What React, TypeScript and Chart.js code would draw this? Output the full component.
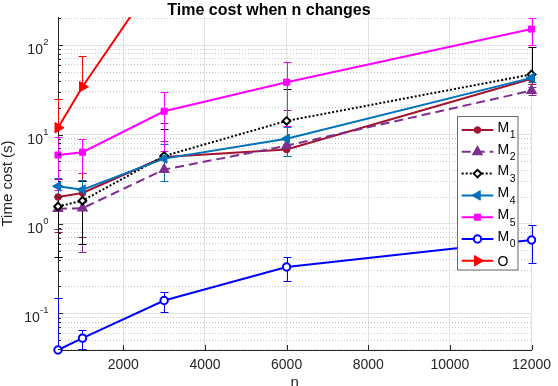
import React, { useEffect, useRef } from 'react';
import { Chart, registerables } from 'chart.js';
import { drawPoint } from 'chart.js/helpers';

Chart.register(...registerables);

const FONT = "'Liberation Sans', Arial, Helvetica, sans-serif";
const AXIS_COLOR = '#262626';

// ---------- data ----------
const nValues = [400, 1000, 3000, 6000, 12000];

const m1Values = [2.0, 2.22, 5.6, 6.8, 42];
const m1Err = [1.19, 1.5, 7.7, 1.1, 5];
const m2Values = [1.48, 1.5, 4.06, 7.5, 31];
const m2Err = [0.6, 1.02, 4.5, 11.1, 3];
const m3Values = [1.57, 1.82, 5.75, 14.2, 47];
const m3Err = [1.14, 1.22, 5.8, 18.3, 47.5];
const m4Values = [2.64, 2.42, 5.38, 8.95, 43];
const m4Err = [0.66, 0.66, 2.38, 3.24, 4];
const m5Values = [5.9, 6.34, 18.2, 38.5, 151];
const m5Err = [3.5, 2.66, 11.6, 26, 50];
const m0Values = [0.039, 0.0529, 0.1395, 0.33, 0.662];
const m0Err = [0.109, 0.0127, 0.035, 0.097, 0.3];
const oValues = [11.9, 34.2, 740, null, null];
const oErr = [12.8, 41, null, null, null];

const xTickValues = [2000, 4000, 6000, 8000, 10000, 12000];
const yDecades = [0.1, 1, 10, 100];
const yDecadeExponents = ['-1', '0', '1', '2'];
const yMinorMultipliers = [2, 3, 4, 5, 6, 7, 8, 9];
const xMin = 400;
const xMax = 12000;
const yMin = 0.039;
const yMax = 206;

const titleText = 'Time cost when n changes';
const xTitle = 'n';
const yTitle = 'Time cost (s)';

// ---------- styles ----------
type Series = {
  base: string; sub: string; values: (number | null)[]; err: (number | null)[];
  color: string; dash: number[]; pointStyle: string; rotation: number; radius: number;
  fill: string; pbw: number;
};

const seriesList: Series[] = [
  { base: 'M', sub: '1', values: m1Values, err: m1Err, color: '#A2142F', dash: [], pointStyle: 'circle', rotation: 0, radius: 3.3, fill: '#A2142F', pbw: 1 },
  { base: 'M', sub: '2', values: m2Values, err: m2Err, color: '#7E2F8E', dash: [9, 5], pointStyle: 'triangle', rotation: 0, radius: 5.2, fill: '#7E2F8E', pbw: 1.5 },
  { base: 'M', sub: '3', values: m3Values, err: m3Err, color: '#000000', dash: [2, 2], pointStyle: 'rectRot', rotation: 0, radius: 3.8, fill: '#ffffff', pbw: 2 },
  { base: 'M', sub: '4', values: m4Values, err: m4Err, color: '#0072BD', dash: [], pointStyle: 'triangle', rotation: -90, radius: 5.5, fill: '#0072BD', pbw: 1 },
  { base: 'M', sub: '5', values: m5Values, err: m5Err, color: '#FF00FF', dash: [], pointStyle: 'rect', rotation: 0, radius: 4.3, fill: '#FF00FF', pbw: 1 },
  { base: 'M', sub: '0', values: m0Values, err: m0Err, color: '#0000FF', dash: [], pointStyle: 'circle', rotation: 0, radius: 3.7, fill: '#ffffff', pbw: 2 },
  { base: 'O', sub: '', values: oValues, err: oErr, color: '#FF0000', dash: [], pointStyle: 'triangle', rotation: 90, radius: 6, fill: '#FF0000', pbw: 1 },
];

const isDecade = (v: number) => {
  const l = Math.log10(v);
  return Math.abs(l - Math.round(l)) < 1e-6;
};

const buildYTicks = () => {
  const out: { value: number }[] = [];
  [0.01, ...yDecades].forEach((d) => {
    [1, ...yMinorMultipliers].forEach((k) => {
      const v = Number((k * d).toPrecision(6));
      if (v >= yMin && v <= yMax) out.push({ value: v });
    });
  });
  return out;
};

const overlayPlugin = {
  id: 'overlay',
  beforeDatasetsDraw(chart: any) {
    const { ctx, chartArea, scales } = chart;
    const xs = scales.x;
    const ys = scales.y;
    const cap = 4;
    ctx.save();
    ctx.beginPath();
    ctx.rect(chartArea.left - 10, chartArea.top, chartArea.right - chartArea.left + 20, chartArea.bottom - chartArea.top + 10);
    ctx.clip();
    ctx.lineWidth = 1;
    ctx.setLineDash([]);
    seriesList.forEach((s) => {
      ctx.strokeStyle = s.color;
      s.values.forEach((v, i) => {
        const e = s.err[i];
        if (v == null || e == null) return;
        const px = Math.round(xs.getPixelForValue(nValues[i])) + 0.5;
        const pv = ys.getPixelForValue(v);
        const ph = Math.round(ys.getPixelForValue(v + e)) + 0.5;
        ctx.beginPath();
        ctx.moveTo(px, pv);
        ctx.lineTo(px, ph);
        ctx.moveTo(px - cap, ph);
        ctx.lineTo(px + cap, ph);
        if (v - e > 0) {
          const pl = Math.round(ys.getPixelForValue(v - e)) + 0.5;
          ctx.moveTo(px, pv);
          ctx.lineTo(px, pl);
          ctx.moveTo(px - cap, pl);
          ctx.lineTo(px + cap, pl);
        }
        ctx.stroke();
      });
    });
    ctx.restore();
  },
  afterDraw(chart: any) {
    const { ctx, chartArea, scales } = chart;
    const xs = scales.x;
    const ys = scales.y;
    ctx.save();
    // inward tick marks
    ctx.strokeStyle = AXIS_COLOR;
    ctx.lineWidth = 1;
    ctx.setLineDash([]);
    ctx.beginPath();
    xTickValues.forEach((v) => {
      const px = Math.round(xs.getPixelForValue(v)) + 0.5;
      ctx.moveTo(px, chartArea.bottom);
      ctx.lineTo(px, chartArea.bottom - 5);
    });
    buildYTicks().forEach((t) => {
      const py = Math.round(ys.getPixelForValue(t.value)) + 0.5;
      const len = isDecade(t.value) ? 5 : 3;
      ctx.moveTo(chartArea.left, py);
      ctx.lineTo(chartArea.left + len, py);
    });
    ctx.stroke();

    // y tick labels: 10 with superscript exponent
    ctx.fillStyle = AXIS_COLOR;
    ctx.textAlign = 'right';
    ctx.textBaseline = 'alphabetic';
    const rightX = chartArea.left - 9.5;
    yDecades.forEach((d, i) => {
      const py = ys.getPixelForValue(d);
      const ex = yDecadeExponents[i];
      ctx.font = `9.5px ${FONT}`;
      const ew = ctx.measureText(ex).width;
      ctx.fillText(ex, rightX, py);
      ctx.font = `14px ${FONT}`;
      ctx.fillText('10', rightX - ew - 0.3, py + 9);
    });

    // legend
    const boxRight = chartArea.right - 14;
    const boxW = 60.5;
    const boxX = Math.round(boxRight - boxW) + 0.5;
    const boxY = Math.round(chartArea.top + 100) - 0.5;
    const rowH = 21.8;
    const boxH = 153.5;
    ctx.fillStyle = '#ffffff';
    ctx.fillRect(boxX, boxY, boxW, boxH);
    ctx.strokeStyle = '#6a6a6a';
    ctx.lineWidth = 1;
    ctx.strokeRect(boxX, boxY, boxW, boxH);
    seriesList.forEach((s, i) => {
      const ly = boxY + 13.5 + i * rowH;
      const x0 = boxX + 4.2;
      const x1 = boxX + 35.8;
      ctx.strokeStyle = s.color;
      ctx.lineWidth = 2;
      ctx.setLineDash(s.dash);
      ctx.beginPath();
      ctx.moveTo(x0, ly);
      ctx.lineTo(x1, ly);
      ctx.stroke();
      ctx.setLineDash([]);
      ctx.fillStyle = s.fill;
      ctx.strokeStyle = s.color;
      ctx.lineWidth = s.pbw;
      drawPoint(ctx, { pointStyle: s.pointStyle, rotation: s.rotation, radius: s.radius, borderWidth: s.pbw } as any, (x0 + x1) / 2, ly);
      ctx.fillStyle = '#000000';
      ctx.textAlign = 'left';
      ctx.font = `14px ${FONT}`;
      const tx = boxX + 40;
      if (s.sub) {
        ctx.fillText(s.base, tx, ly + 1.8);
        const bw = ctx.measureText(s.base).width;
        ctx.font = `10.5px ${FONT}`;
        ctx.fillText(s.sub, tx + bw + 0.5, ly + 8.4);
      } else {
        ctx.fillText(s.base, tx, ly + 5);
      }
    });
    ctx.restore();
  },
};

export default function App() {
  const canvasRef = useRef<HTMLCanvasElement | null>(null);

  useEffect(() => {
    if (!canvasRef.current) return;
    Chart.defaults.font.family = FONT;
    const datasets = seriesList.map((s, i) => ({
      label: s.base + s.sub,
      data: nValues.map((n, j) => ({ x: n, y: s.values[j] })),
      borderColor: s.color,
      backgroundColor: s.color,
      borderWidth: 2,
      borderDash: s.dash,
      pointStyle: s.pointStyle,
      pointRotation: s.rotation,
      pointRadius: s.radius,
      pointHoverRadius: s.radius,
      pointBackgroundColor: s.fill,
      pointBorderColor: s.color,
      pointBorderWidth: s.pbw,
      tension: 0,
      fill: false,
      clip: { left: 10, right: 10, top: 0, bottom: 10 },
      order: seriesList.length - i,
    }));

    const chart = new Chart(canvasRef.current, {
      type: 'line',
      data: { datasets } as any,
      plugins: [overlayPlugin],
      options: {
        animation: false,
        responsive: false,
        devicePixelRatio: 1,
        events: [],
        layout: { padding: { left: 0, right: 20, top: 0, bottom: 0 } },
        plugins: {
          legend: { display: false },
          tooltip: { enabled: false },
          title: {
            display: true,
            text: titleText,
            color: '#000000',
            font: { family: FONT, size: 16, weight: 'bold', lineHeight: 1 },
            padding: { top: 3, bottom: -2 },
          },
        },
        scales: {
          x: {
            type: 'linear',
            min: xMin,
            max: xMax,
            afterBuildTicks: (s: any) => {
              s.ticks = xTickValues.map((v) => ({ value: v }));
            },
            afterFit: (s: any) => {
              s.height = 36;
            },
            ticks: {
              autoSkip: false,
              maxRotation: 0,
              color: AXIS_COLOR,
              font: { family: FONT, size: 14 },
              padding: 7,
              callback: (v: any) => String(v),
            },
            grid: { color: '#e2e2e2', lineWidth: 1, drawTicks: false },
            border: { color: AXIS_COLOR, width: 1 },
            title: {
              display: true,
              text: xTitle,
              color: AXIS_COLOR,
              font: { family: FONT, size: 15, lineHeight: 1 },
              padding: { top: 0, bottom: -4 },
            },
          },
          y: {
            type: 'logarithmic',
            min: yMin,
            max: yMax,
            afterBuildTicks: (s: any) => {
              s.ticks = buildYTicks();
            },
            afterFit: (s: any) => {
              s.width = 58;
            },
            ticks: { display: false, autoSkip: false },
            grid: {
              drawTicks: false,
              lineWidth: 1,
              color: (c: any) => (c.tick && isDecade(c.tick.value) ? '#e2e2e2' : '#c4c4c4'),
            },
            border: {
              color: AXIS_COLOR,
              width: 1,
              dash: (c: any) => (c.tick && !isDecade(c.tick.value) ? [1, 2] : []),
            },
            title: {
              display: true,
              text: yTitle,
              color: AXIS_COLOR,
              font: { family: FONT, size: 15, lineHeight: 1 },
              padding: { top: 0, bottom: 0 },
            },
          },
        },
      } as any,
    });
    return () => chart.destroy();
  }, []);

  return (
    <div style={{ position: 'fixed', left: 0, top: 0, width: 558, height: 386, background: '#ffffff' }}>
      <canvas ref={canvasRef} width={558} height={386} style={{ width: 558, height: 386, display: 'block' }} />
    </div>
  );
}
